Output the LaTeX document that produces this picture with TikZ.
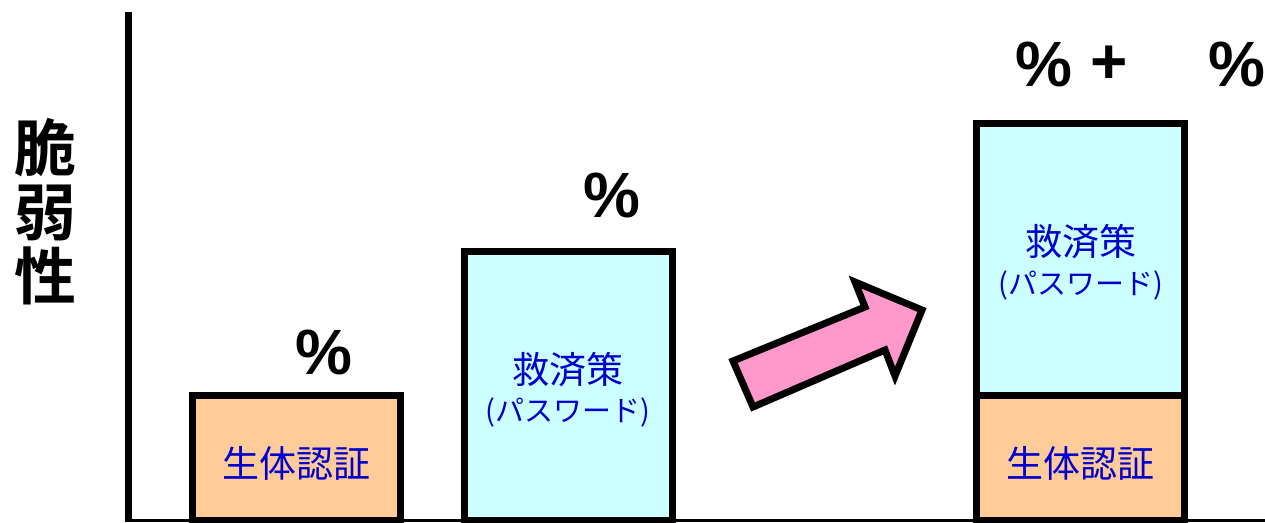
\documentclass[tikz,border=0pt]{standalone}
\usepackage{fontspec}
\setmainfont{Liberation Sans}
\newfontfamily\jpfont{Noto Sans CJK JP}[BoldFont={Noto Sans CJK JP Bold}]
\usetikzlibrary{positioning}
\definecolor{barorange}{HTML}{FFCC99}
\definecolor{barcyan}{HTML}{CCFFFF}
\definecolor{labelblue}{HTML}{0000CC}
\definecolor{arrowpink}{HTML}{FF99CC}
\tikzset{x=1pt, y=1pt,
bar/.style={ % Sets the properties for each bar
draw, line width=7pt,
inner sep=0pt, outer sep=0pt,
minimum width=208pt,
anchor=south west},
barlabel/.style={ % Text inside the bars
text=labelblue, inner sep=0pt,
font=\jpfont\fontsize{37}{40}\selectfont},
barsub/.style={
text=labelblue, inner sep=0pt,
font=\jpfont\fontsize{29}{32}\selectfont},
pct/.style={ % Percent marks above the bars
inner sep=0pt,
font=\bfseries\fontsize{64}{68}\selectfont}}

\begin{document}
\begin{tikzpicture}
	\useasboundingbox (0,0) rectangle (1265,522);
	% axes
	\coordinate (origin) at (128.5,1.5);
	\coordinate (ytop) at (128.5,510);
	\coordinate (xend) at (1265,1.5);
	\node[inner sep=0pt, align=center, font=\jpfont\bfseries\fontsize{62}{64}\selectfont] (ylabel) at (45,310.5) {脆\\弱\\性};
	% bars
	\node[bar, fill=barorange, minimum height=125pt] (bio) at (192.5,1.5) {};
	\node[bar, fill=barcyan, minimum height=269pt] (pass) at (464.5,1.5) {};
	\node[bar, fill=barorange, minimum height=125pt] (biosum) at (976.5,1.5) {};
	\node[bar, fill=barcyan, minimum height=272pt] (passsum) at (976.5,126.5) {};
	\draw[line width=7pt] (ytop) -- (origin);
	\draw[line width=3.5pt] ([xshift=-3.5pt]origin) -- (xend);
	% labels in the bars
	\node[barlabel] (biotext) at (296,59) {生体認証};
	\node[barlabel] (passtext) at (568,152) {救済策};
	\node[barsub] (passsub) at (568,109.5) {(パスワード)};
	\node[barlabel] (biosumtext) at (1080.5,59) {生体認証};
	\node[barlabel] (passsumtext) at (1080.5,280) {救済策};
	\node[barsub] (passsumsub) at (1080.5,237) {(パスワード)};
	% percent marks
	\node[pct] (pctbio) at (324,170) {\%};
	\node[pct] (pctpass) at (612,327) {\%};
	\node[pct] (pctsum) at (1044,457.5) {\%};
	\node[pct] (plus) at (1109,457) {+};
	\node[pct] (pctsumb) at (1237,457.5) {\%};
	% block arrow
	\draw[line width=7pt, line join=miter, fill=arrowpink]
		(753,115) -- (733,161) -- (865,215) -- (855,240) -- (922,212) -- (895,146) -- (885,172) -- cycle;
\end{tikzpicture}
\end{document}
